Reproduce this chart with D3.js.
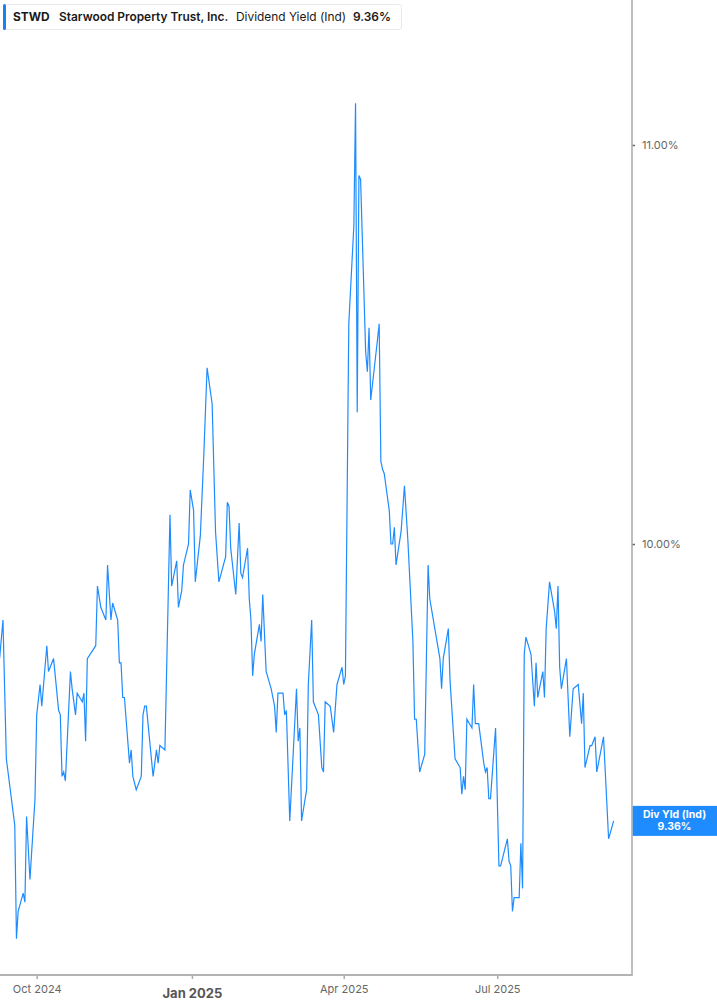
<!DOCTYPE html>
<html>
<head>
<meta charset="utf-8">
<script src="https://cdn.jsdelivr.net/npm/d3@7"></script>
<style>
  html, body { margin: 0; padding: 0; background: #fff; }
  svg { display: block; font-family: Inter, "Noto Sans", sans-serif; }
</style>
</head>
<body>
<svg id="chart" width="717" height="1005"></svg>
<script>
// ---- data ----
const ticker = "STWD";
const company = "Starwood Property Trust, Inc.";
const metric = "Dividend Yield (Ind)";
const lastLabel = "9.36%";
const badgeTitle = "Div Yld (Ind)";

const dates = [
"2024-09-09","2024-09-11","2024-09-13","2024-09-16","2024-09-18","2024-09-19","2024-09-20","2024-09-23","2024-09-24","2024-09-25",
"2024-09-27","2024-09-30","2024-10-01","2024-10-03","2024-10-04","2024-10-07","2024-10-08","2024-10-11","2024-10-14","2024-10-15",
"2024-10-16","2024-10-17","2024-10-18","2024-10-21","2024-10-22","2024-10-24","2024-10-25","2024-10-28","2024-10-29","2024-10-30",
"2024-10-31","2024-11-05","2024-11-06","2024-11-08","2024-11-11","2024-11-12","2024-11-14","2024-11-15","2024-11-18","2024-11-19",
"2024-11-20","2024-11-21","2024-11-22","2024-11-25","2024-11-26","2024-11-27","2024-11-29","2024-12-02","2024-12-03","2024-12-04",
"2024-12-05","2024-12-09","2024-12-11","2024-12-12","2024-12-13","2024-12-16","2024-12-19","2024-12-20","2024-12-23","2024-12-24",
"2024-12-26","2024-12-27","2024-12-30","2024-12-31","2025-01-02","2025-01-03","2025-01-06","2025-01-08","2025-01-10","2025-01-13",
"2025-01-15","2025-01-17","2025-01-21","2025-01-22","2025-01-23","2025-01-24","2025-01-27","2025-01-29","2025-01-30","2025-01-31",
"2025-02-03","2025-02-04","2025-02-05","2025-02-06","2025-02-07","2025-02-10","2025-02-11","2025-02-12","2025-02-14","2025-02-17",
"2025-02-19","2025-02-20","2025-02-21","2025-02-24","2025-02-25","2025-02-26","2025-02-28","2025-03-04","2025-03-05","2025-03-06",
"2025-03-07","2025-03-10","2025-03-11","2025-03-13","2025-03-14","2025-03-17","2025-03-19","2025-03-20","2025-03-21","2025-03-24",
"2025-03-26","2025-03-28","2025-03-31","2025-04-01","2025-04-02","2025-04-04","2025-04-07","2025-04-08","2025-04-09","2025-04-10",
"2025-04-11","2025-04-14","2025-04-15","2025-04-16","2025-04-17","2025-04-21","2025-04-22","2025-04-23","2025-04-24","2025-04-25",
"2025-04-28","2025-04-29","2025-04-30","2025-05-01","2025-05-02","2025-05-05","2025-05-07","2025-05-09","2025-05-12","2025-05-13",
"2025-05-14","2025-05-16","2025-05-19","2025-05-21","2025-05-22","2025-05-28","2025-05-29","2025-05-30","2025-06-02","2025-06-03",
"2025-06-06","2025-06-09","2025-06-10","2025-06-11","2025-06-12","2025-06-13","2025-06-16","2025-06-17","2025-06-18","2025-06-20",
"2025-06-23","2025-06-24","2025-06-25","2025-06-26","2025-06-27","2025-06-30","2025-07-02","2025-07-03","2025-07-07","2025-07-08",
"2025-07-09","2025-07-10","2025-07-11","2025-07-14","2025-07-15","2025-07-16","2025-07-17","2025-07-18","2025-07-21","2025-07-23",
"2025-07-24","2025-07-25","2025-07-28","2025-07-29","2025-07-30","2025-08-01","2025-08-04","2025-08-05","2025-08-06","2025-08-07",
"2025-08-08","2025-08-11","2025-08-13","2025-08-15","2025-08-18","2025-08-20","2025-08-21","2025-08-22","2025-08-25","2025-08-26",
"2025-08-28","2025-08-29","2025-09-02","2025-09-05","2025-09-08"
];

const yields = [
9.73,9.82,9.50,9.41,9.35,9.10,9.16,9.20,9.18,9.37,
9.23,9.41,9.60,9.67,9.62,9.76,9.70,9.73,9.61,9.60,
9.46,9.47,9.45,9.70,9.66,9.60,9.65,9.63,9.65,9.54,
9.73,9.76,9.90,9.85,9.82,9.95,9.82,9.86,9.82,9.72,
9.72,9.64,9.64,9.49,9.52,9.46,9.43,9.46,9.60,9.62,
9.62,9.46,9.52,9.49,9.53,9.52,10.07,9.90,9.96,9.85,
9.89,9.95,10.00,10.13,10.08,9.91,10.02,10.21,10.43,10.34,
10.03,9.91,9.97,10.10,10.09,9.99,9.88,10.05,9.93,9.92,
9.99,9.87,9.82,9.69,9.74,9.81,9.77,9.88,9.70,9.66,
9.62,9.56,9.65,9.65,9.60,9.61,9.36,9.66,9.54,9.57,
9.36,9.43,9.67,9.82,9.63,9.60,9.48,9.47,9.63,9.62,
9.56,9.67,9.71,9.67,9.69,10.54,10.79,11.11,10.32,10.92,
10.91,10.47,10.42,10.53,10.35,10.50,10.54,10.20,10.18,10.17,
10.08,10.00,10.00,10.04,9.95,10.03,10.14,10.01,9.77,9.59,
9.59,9.47,9.51,9.95,9.87,9.73,9.66,9.73,9.80,9.68,
9.50,9.48,9.42,9.46,9.43,9.59,9.57,9.67,9.58,9.58,
9.49,9.47,9.48,9.41,9.41,9.57,9.26,9.26,9.32,9.27,
9.26,9.16,9.19,9.19,9.31,9.21,9.74,9.78,9.74,9.62,
9.72,9.64,9.70,9.64,9.80,9.91,9.84,9.80,9.90,9.71,
9.66,9.73,9.55,9.66,9.67,9.58,9.65,9.48,9.53,9.53,
9.55,9.47,9.55,9.32,9.36
];

const yTickValues = [10, 11];
const xTickDates = ["2024-10-01", "2025-01-01", "2025-04-01", "2025-07-01"];
const xTickLabels = ["Oct 2024", "Jan 2025", "Apr 2025", "Jul 2025"];
const xTickBold = [false, true, false, false];

// ---- layout ----
const W = 717, H = 1005;
const plotRight = 632, axisY = 975;
const blue = "#1e8cff";
const parse = d3.timeParse("%Y-%m-%d");

const data = dates.map((d, i) => ({ date: parse(d), value: yields[i] }));

const x = d3.scaleTime()
  .domain([parse("2024-10-01"), parse("2025-07-01")])
  .range([36.7, 36.7 + 273 * 1.687]);

const y = d3.scaleLog()
  .domain([10, 11])
  .range([544, 145]);

const svg = d3.select("#chart");

svg.append("defs").append("clipPath").attr("id", "plotclip")
  .append("rect").attr("x", 0).attr("y", 0).attr("width", plotRight).attr("height", axisY);

// line
const line = d3.line().x(d => x(d.date)).y(d => y(d.value));
svg.append("path")
  .datum(data)
  .attr("clip-path", "url(#plotclip)")
  .attr("fill", "none")
  .attr("stroke", blue)
  .attr("stroke-width", 1.2)
  .attr("d", line);

// right axis
const yAxis = d3.axisRight(y)
  .tickValues(yTickValues)
  .tickSize(3)
  .tickPadding(7)
  .tickFormat(d => d3.format(".2f")(d) + "%");
const gy = svg.append("g").attr("transform", `translate(${plotRight},0)`).call(yAxis);
gy.select(".domain").remove();
gy.selectAll(".tick line").attr("stroke", "#666").attr("stroke-width", 1.5);
gy.selectAll(".tick text")
  .attr("fill", "#666")
  .attr("font-size", 11)
  .attr("font-family", "Inter, sans-serif");
svg.append("line")
  .attr("x1", plotRight).attr("x2", plotRight)
  .attr("y1", 0).attr("y2", axisY)
  .attr("stroke", "#aaaaaa").attr("stroke-width", 1.5);

// bottom axis
const xAxis = d3.axisBottom(x)
  .tickValues(xTickDates.map(parse))
  .tickSize(4)
  .tickPadding(6)
  .tickFormat((d, i) => xTickLabels[i]);
const gx = svg.append("g").attr("transform", `translate(0,${axisY})`).call(xAxis);
gx.select(".domain").remove();
gx.selectAll(".tick line").attr("stroke", "#aaaaaa").attr("stroke-width", 1.5);
gx.selectAll(".tick text")
  .attr("fill", (d, i) => xTickBold[i] ? "#555" : "#666")
  .attr("font-size", (d, i) => xTickBold[i] ? 13 : 11)
  .attr("font-weight", (d, i) => xTickBold[i] ? 700 : 400)
  .attr("font-family", "Inter, sans-serif")
  .attr("dy", (d, i) => xTickBold[i] ? "1.0em" : "0.71em");
svg.append("line")
  .attr("x1", 0).attr("x2", plotRight + 0.75)
  .attr("y1", axisY).attr("y2", axisY)
  .attr("stroke", "#b3b3b3").attr("stroke-width", 2);

// last-value badge
const last = data[data.length - 1];
const ly = y(last.value);
const badge = svg.append("g");
badge.append("rect")
  .attr("x", plotRight + 0.75).attr("y", ly - 15)
  .attr("width", W - plotRight).attr("height", 30)
  .attr("fill", blue);
badge.append("text")
  .attr("x", (plotRight + W) / 2).attr("y", ly - 3)
  .attr("text-anchor", "middle").attr("fill", "#fff")
  .attr("font-size", 10.5).attr("font-weight", 700)
  .text(badgeTitle);
badge.append("text")
  .attr("x", (plotRight + W) / 2).attr("y", ly + 9.5)
  .attr("text-anchor", "middle").attr("fill", "#fff")
  .attr("font-size", 10.5).attr("font-weight", 700)
  .text(lastLabel);

// header legend
const hdr = svg.append("g");
hdr.append("rect")
  .attr("x", 3.5).attr("y", 4.5).attr("width", 398).attr("height", 25)
  .attr("rx", 3).attr("fill", "#fff").attr("stroke", "#e8e8e8");
hdr.append("rect")
  .attr("x", 3).attr("y", 4).attr("width", 3).attr("height", 26)
  .attr("rx", 1.5).attr("fill", "#1a82f0");
const hy = 21;
const hfs = 11.9;
hdr.append("text").attr("x", 13).attr("y", hy)
  .attr("font-size", hfs).attr("font-weight", 700).attr("fill", "#1a1a1a").text(ticker);
hdr.append("text").attr("x", 59).attr("y", hy)
  .attr("font-size", hfs).attr("font-weight", 600).attr("fill", "#1a1a1a").text(company);
hdr.append("text").attr("x", 236).attr("y", hy)
  .attr("font-size", hfs).attr("font-weight", 400).attr("fill", "#1a1a1a").text(metric);
hdr.append("text").attr("x", 353).attr("y", hy)
  .attr("font-size", hfs).attr("font-weight", 600).attr("fill", "#1a1a1a").text(lastLabel);
</script>
</body>
</html>
